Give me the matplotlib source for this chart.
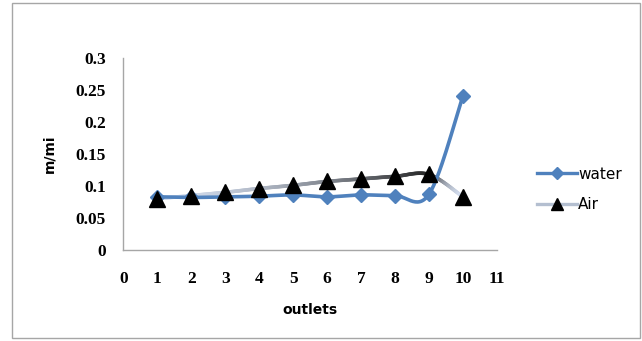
"""Water vs air ratio per outlet, smoothed line chart."""

import matplotlib
matplotlib.use("Agg")

import matplotlib.pyplot as plt
import numpy as np
from matplotlib.collections import LineCollection
from matplotlib.colors import to_rgb
from matplotlib.lines import Line2D
from matplotlib.patches import Rectangle

outlets = [1, 2, 3, 4, 5, 6, 7, 8, 9, 10]
water = [0.083, 0.082, 0.083, 0.084, 0.086, 0.083, 0.086, 0.085, 0.087, 0.241]
air = [0.080, 0.085, 0.090, 0.096, 0.101, 0.107, 0.111, 0.115, 0.118, 0.083]

x_ticks = list(range(0, 12))
y_ticks = [0, 0.05, 0.1, 0.15, 0.2, 0.25, 0.3]
y_tick_labels = ["0", "0.05", "0.1", "0.15", "0.2", "0.25", "0.3"]

WATER_BLUE = "#4f81bd"


def smooth_curve(xs, ys, steps=30, tension=1 / 6):
    """Bezier smoothing through every point, similar to spreadsheet smoothed lines."""
    xs = np.asarray(xs, dtype=float)
    ys = np.asarray(ys, dtype=float)
    pts = np.column_stack([xs, ys])
    out = []
    n = len(pts)
    for i in range(n - 1):
        p0 = pts[i - 1] if i > 0 else pts[i]
        p1 = pts[i]
        p2 = pts[i + 1]
        p3 = pts[i + 2] if i + 2 < n else pts[i + 1]
        c1 = p1 + (p2 - p0) * tension
        c2 = p2 - (p3 - p1) * tension
        t = np.linspace(0, 1, steps, endpoint=(i == n - 2))[:, None]
        seg = ((1 - t) ** 3) * p1 + 3 * ((1 - t) ** 2) * t * c1 + 3 * (1 - t) * t ** 2 * c2 + t ** 3 * p2
        out.append(seg)
    curve = np.vstack(out)
    return curve[:, 0], curve[:, 1]


fig = plt.figure(figsize=(6.42, 3.41), dpi=100)
fig.patches.append(Rectangle((0.019, 0.009), 0.978, 0.982, transform=fig.transFigure,
                             fill=False, edgecolor="#a6a6a6", linewidth=1.0))

ax = fig.add_axes([0.192, 0.267, 0.582, 0.563])
ax.set_xlim(0, 11)
ax.set_ylim(0, 0.3)

for side in ("top", "right"):
    ax.spines[side].set_visible(False)
for side in ("left", "bottom"):
    ax.spines[side].set_color("#a6a6a6")
    ax.spines[side].set_linewidth(1.0)

ax.set_xticks(x_ticks)
ax.set_xticklabels([str(v) for v in x_ticks], fontfamily="Liberation Serif",
                   fontweight="bold", fontsize=12.5)
ax.set_yticks(y_ticks)
ax.set_yticklabels(y_tick_labels, fontfamily="Liberation Serif",
                   fontweight="bold", fontsize=12.5)
ax.tick_params(length=0)
ax.tick_params(axis="y", pad=12.5)
ax.tick_params(axis="x", pad=15)

# air line: fades from pale blue-grey to near black, then pale again at the last point
ax_x, ax_y = smooth_curve(outlets, air)
pts = np.column_stack([ax_x, ax_y]).reshape(-1, 1, 2)
segs = np.concatenate([pts[:-1], pts[1:]], axis=1)
light = np.array(to_rgb("#d5dff0"))
dark = np.array(to_rgb("#262626"))
mid = 0.5 * (ax_x[:-1] + ax_x[1:])
frac = np.where(mid <= 9, (mid - 1) / 8.0, 1 - (mid - 9) * 1.0)
frac = np.clip(frac, 0, 1) ** 1.6
colors = light[None, :] * (1 - frac[:, None]) + dark[None, :] * frac[:, None]
ax.add_collection(LineCollection(segs, colors=colors, linewidth=2.6, capstyle="round", zorder=2))

wx, wy = smooth_curve(outlets, water)
ax.plot(wx, wy, color=WATER_BLUE, linewidth=2.6, zorder=3, solid_capstyle="round")
ax.plot(outlets, water, linestyle="none", marker="D", markersize=7.5, color=WATER_BLUE, zorder=4)
ax.plot(outlets, air, linestyle="none", marker="^", markersize=11.5, color="black", zorder=5)

ax.set_xlabel("outlets", fontfamily="DejaVu Sans", fontweight="bold", fontsize=10, labelpad=12)
ax.set_ylabel("m/mi", fontfamily="DejaVu Sans", fontweight="bold", fontsize=10, labelpad=14)

handles = [
    Line2D([0], [0], color=WATER_BLUE, linewidth=2.4, marker="D", markersize=6),
    Line2D([0], [0], color="#b4bfd0", linewidth=2.4, marker="^", markersize=8,
           markerfacecolor="black", markeredgecolor="black"),
]
fig.legend(handles, ["water", "Air"], loc="center left", bbox_to_anchor=(0.815, 0.445),
           frameon=False, handlelength=2.6, handletextpad=0.1, labelspacing=1.0,
           prop={"family": "DejaVu Sans", "size": 11})

fig.savefig("out.png", dpi=100)
